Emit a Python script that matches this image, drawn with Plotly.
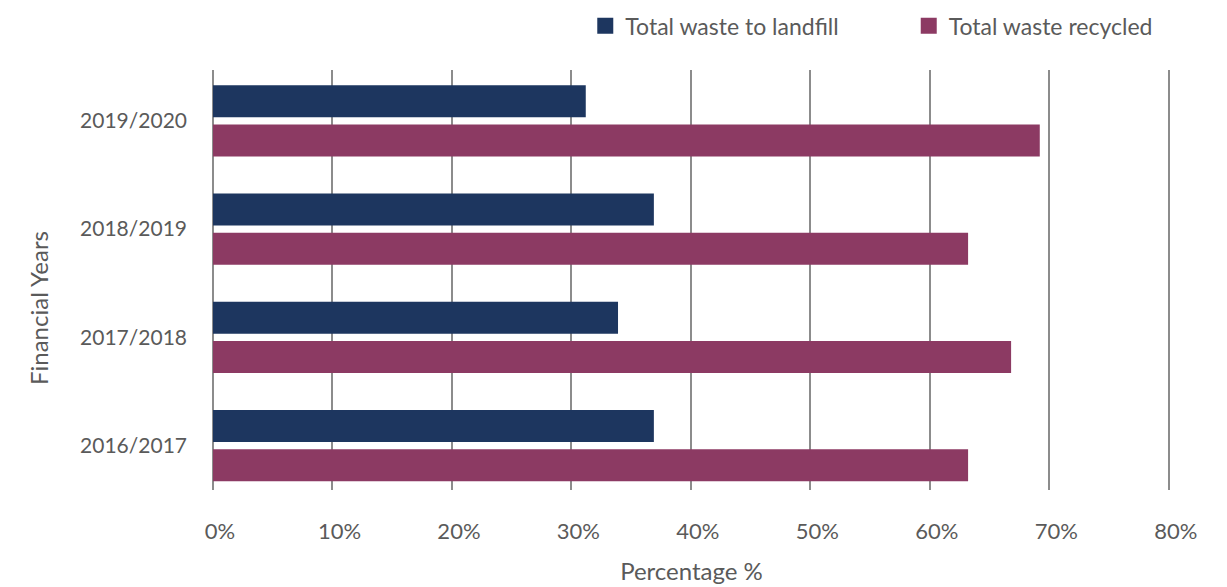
import plotly.graph_objects as go

years = ["2019/2020", "2018/2019", "2017/2018", "2016/2017"]
landfill = [31.2, 36.9, 33.9, 36.9]
recycled = [69.2, 63.2, 66.8, 63.2]
x_ticks = [0, 10, 20, 30, 40, 50, 60, 70, 80]
x_tick_labels = [f"{v}%" for v in x_ticks]

NAVY = "#1d365f"
MAROON = "#8c3a63"
TEXT = "#5a5a5a"
GRID = "#8c8c8c"
FONT = "Lato"

fig = go.Figure()
fig.add_trace(go.Bar(y=years, x=landfill, orientation="h", name="Total waste to landfill",
                     marker=dict(color=NAVY, line=dict(width=0)), showlegend=False))
fig.add_trace(go.Bar(y=years, x=recycled, orientation="h", name="Total waste recycled",
                     marker=dict(color=MAROON, line=dict(width=0)), showlegend=False))
# legend entries
fig.add_trace(go.Scatter(x=[None], y=[None], mode="markers", name="Total waste to landfill",
                         marker=dict(symbol="square", size=21, color=NAVY), legend="legend"))
fig.add_trace(go.Scatter(x=[None], y=[None], mode="markers", name="Total waste recycled",
                         marker=dict(symbol="square", size=21, color=MAROON), legend="legend2"))

legend_common = dict(orientation="h", yanchor="middle", y=1.105, xanchor="left",
                     font=dict(size=23, color=TEXT, family=FONT), itemsizing="trace",
                     bgcolor="rgba(0,0,0,0)")

fig.update_layout(
    width=1219, height=579,
    margin=dict(l=205, r=57, t=62, b=97, autoexpand=False),
    paper_bgcolor="white", plot_bgcolor="white",
    barmode="group", bargap=0.279, bargroupgap=0.18,
    font=dict(family=FONT, color=TEXT, size=20),
    legend=dict(x=0.389, **legend_common),
    legend2=dict(x=0.727, **legend_common),
    xaxis=dict(range=[0, 80.1], tickvals=x_ticks, ticktext=x_tick_labels,
               showgrid=True, gridcolor=GRID, gridwidth=2,
               zeroline=True, zerolinecolor=GRID, zerolinewidth=2,
               showline=False, ticks="", ticklabelstandoff=26, ticklabelshift=7,
               tickfont=dict(size=22, color=TEXT),
               title=dict(text="Percentage %", font=dict(size=24, color=TEXT), standoff=20)),
    yaxis=dict(categoryorder="array", categoryarray=years, range=[3.41, -0.47],
               showgrid=False, zeroline=False, showline=False, ticks="",
               ticklabelstandoff=25, tickfont=dict(size=21, color=TEXT)),
    annotations=[dict(text="Financial Years", xref="paper", yref="paper",
                      x=-0.183, y=0.433, xanchor="center", yanchor="middle",
                      textangle=-90, showarrow=False,
                      font=dict(size=24, color=TEXT, family=FONT))],
)

fig.write_html("out.html")
